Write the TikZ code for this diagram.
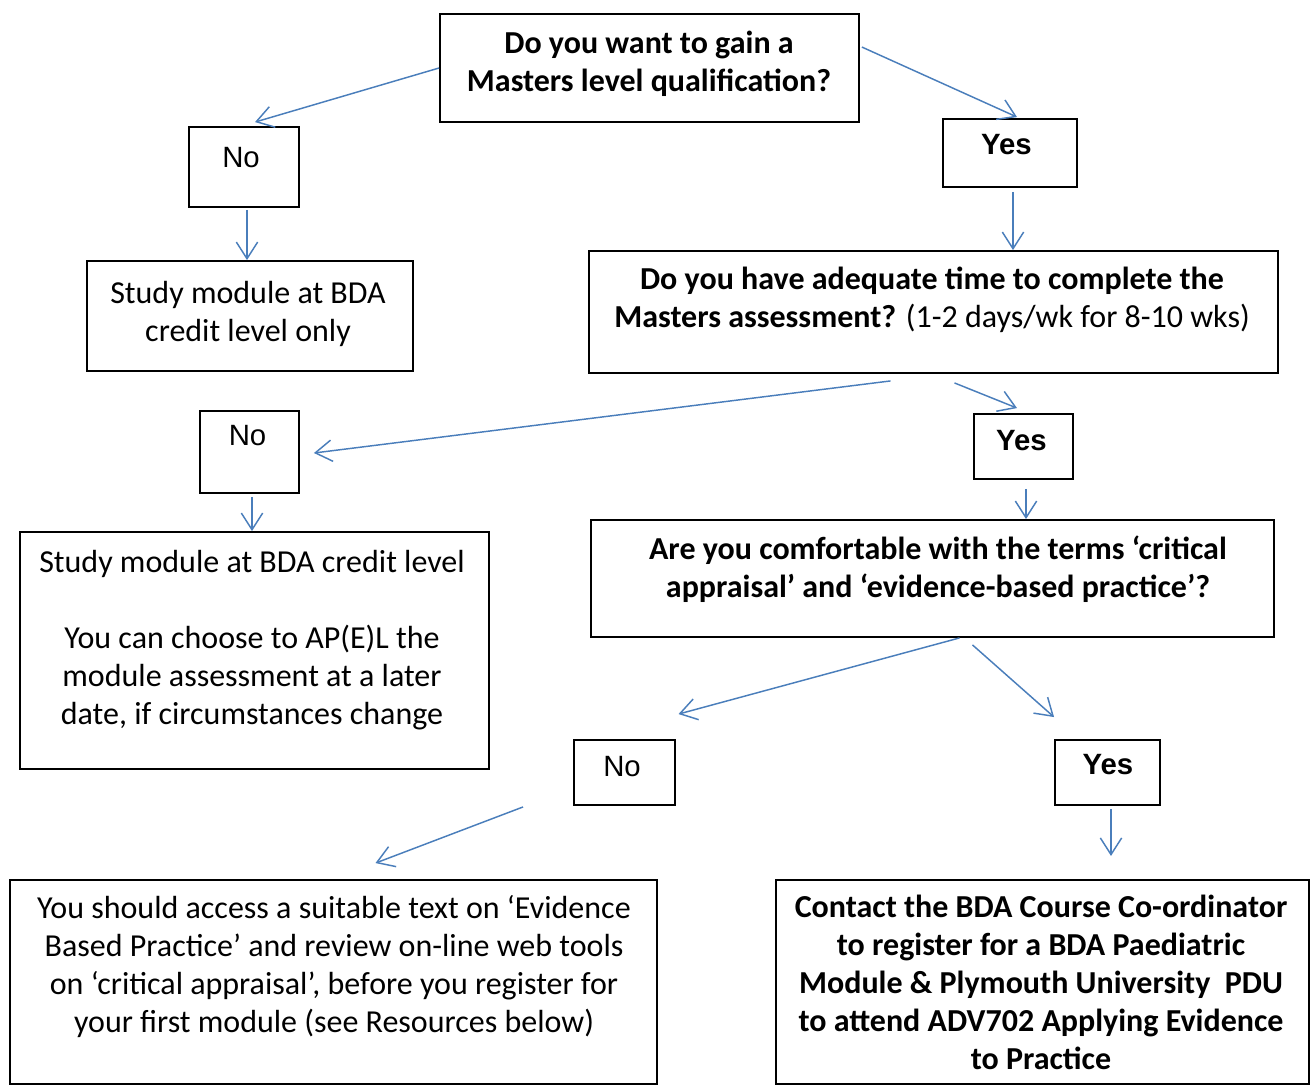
\documentclass[tikz,border=0pt]{standalone}
\usepackage{fontspec}
\setmainfont{Carlito}
\newfontfamily\arialfont{Liberation Sans}
\usetikzlibrary{arrows.meta,calc,positioning}
\definecolor{arrowblue}{RGB}{74,126,187}

\begin{document}
\begin{tikzpicture}[x=0.75pt,y=0.75pt,yscale=-1,xscale=1,
        box/.style={draw=black,line width=1.4pt,inner sep=0pt},
        boxsize/.style 2 args={minimum width=#1*0.75pt,minimum height=#2*0.75pt},
        txt/.style={inner sep=0pt,align=center,font=\fontsize{24pt}{28.5pt}\selectfont},
        bold txt/.style={txt,font=\bfseries\fontsize{24pt}{28.5pt}\selectfont},
        yn/.style={inner sep=0pt,font=\arialfont\fontsize{22pt}{26pt}\selectfont},
        bold yn/.style={yn,font=\arialfont\bfseries\fontsize{22pt}{26pt}\selectfont},
        flow/.style={draw=arrowblue,line width=1.1pt,-{Straight Barb[length=12.5pt,width=16pt]}}]
        \useasboundingbox (0,0) rectangle (1314,1086);

        % boxes
        \node[box,boxsize={419}{108}] (q1) at (649.5,68) {};
        \node[box,boxsize={110}{80}] (no1) at (244,167) {};
        \node[box,boxsize={134}{68}] (yes1) at (1010,153) {};
        \node[box,boxsize={326}{110}] (study1) at (250,316) {};
        \node[box,boxsize={689}{122}] (q2) at (933.5,312) {};
        \node[box,boxsize={99}{82}] (no2) at (249.5,452) {};
        \node[box,boxsize={99}{65}] (yes2) at (1023.5,446.5) {};
        \node[box,boxsize={469}{237}] (study2) at (254.5,650.5) {};
        \node[box,boxsize={683}{117}] (q3) at (932.5,578.5) {};
        \node[box,boxsize={101}{65}] (no3) at (624.5,772.5) {};
        \node[box,boxsize={105}{65}] (yes3) at (1107.5,772.5) {};
        \node[box,boxsize={647}{204}] (study3) at (333.5,982) {};
        \node[box,boxsize={533}{204}] (contact) at (1042.5,982) {};

        % texts
        \node[bold txt] (q1-t) at (649,64) {Do you want to gain a\\Masters level qualification?};
        \node[yn] (no1-t) at (241,158) {No};
        \node[bold yn] (yes1-t) at (1006.5,145) {Yes};
        \node[txt] (study1-t) at (248,314) {Study module at BDA\\credit level only};
        \node[txt] (q2-t) at (932,300) {\textbf{Do you have adequate time to complete the}\\\textbf{Masters assessment?} (1-2 days/wk for 8-10 wks)};
        \node[yn] (no2-t) at (247.5,436) {No};
        \node[bold yn] (yes2-t) at (1021.5,440.5) {Yes};
        \node[txt] (study2-t) at (252,640) {Study module at BDA credit level\\[\baselineskip]You can choose to AP(E)L the\\module assessment at a later\\date, if circumstances change};
        \node[bold txt] (q3-t) at (938,569) {Are you comfortable with the terms ‘critical\\appraisal’ and ‘evidence-based practice’?};
        \node[yn] (no3-t) at (622,767) {No};
        \node[bold yn] (yes3-t) at (1108,765) {Yes};
        \node[txt] (study3-t) at (334,967) {You should access a suitable text on ‘Evidence\\Based Practice’ and review on-line web tools\\on ‘critical appraisal’, before you register for\\your first module (see Resources below)};
        \node[bold txt] (contact-t) at (1041,982) {Contact the BDA Course Co-ordinator\\to register for a BDA Paediatric\\Module \& Plymouth University\ \ PDU\\to attend ADV702 Applying Evidence\\to Practice};

        % arrows
        \draw[flow] (q1.west) -- ($(no1.north)+(11,-4)$);
        \draw[flow] ($(q1.north east)+(2,34)$) -- ($(yes1.north)+(7,-1)$);
        \draw[flow] ($(no1.south)+(3,2)$) -- ($(no1.south |- study1.north)+(3,0)$);
        \draw[flow] ($(yes1.south)+(3,4)$) -- ($(yes1.south |- q2.north)+(3,0)$);
        \draw[flow] ($(q2.south)+(-43,7)$) -- ($(no2.east)+(14,1)$);
        \draw[flow] ($(q2.south)+(21,9)$) -- ($(yes2.north)+(-6.5,-5)$);
        \draw[flow] ($(no2.south)+(2.5,3)$) -- ($(no2.south |- study2.north)+(2.5,0)$);
        \draw[flow] ($(yes2.south)+(2.5,9)$) -- ($(yes2.south |- q3.north)+(2.5,0)$);
        \draw[flow] ($(q3.south)+(27,0)$) -- ($(no3.north)+(54,-25)$);
        \draw[flow] ($(q3.south)+(40,7)$) -- ($(yes3.north west)+(0,-22)$);
        \draw[flow] ($(no3.south west)+(-50,1)$) -- ($(study3.north)+(42,-16)$);
        \draw[flow] ($(yes3.south)+(3.5,3)$) -- ($(yes3.south)+(3.5,50)$);
\end{tikzpicture}
\end{document}
